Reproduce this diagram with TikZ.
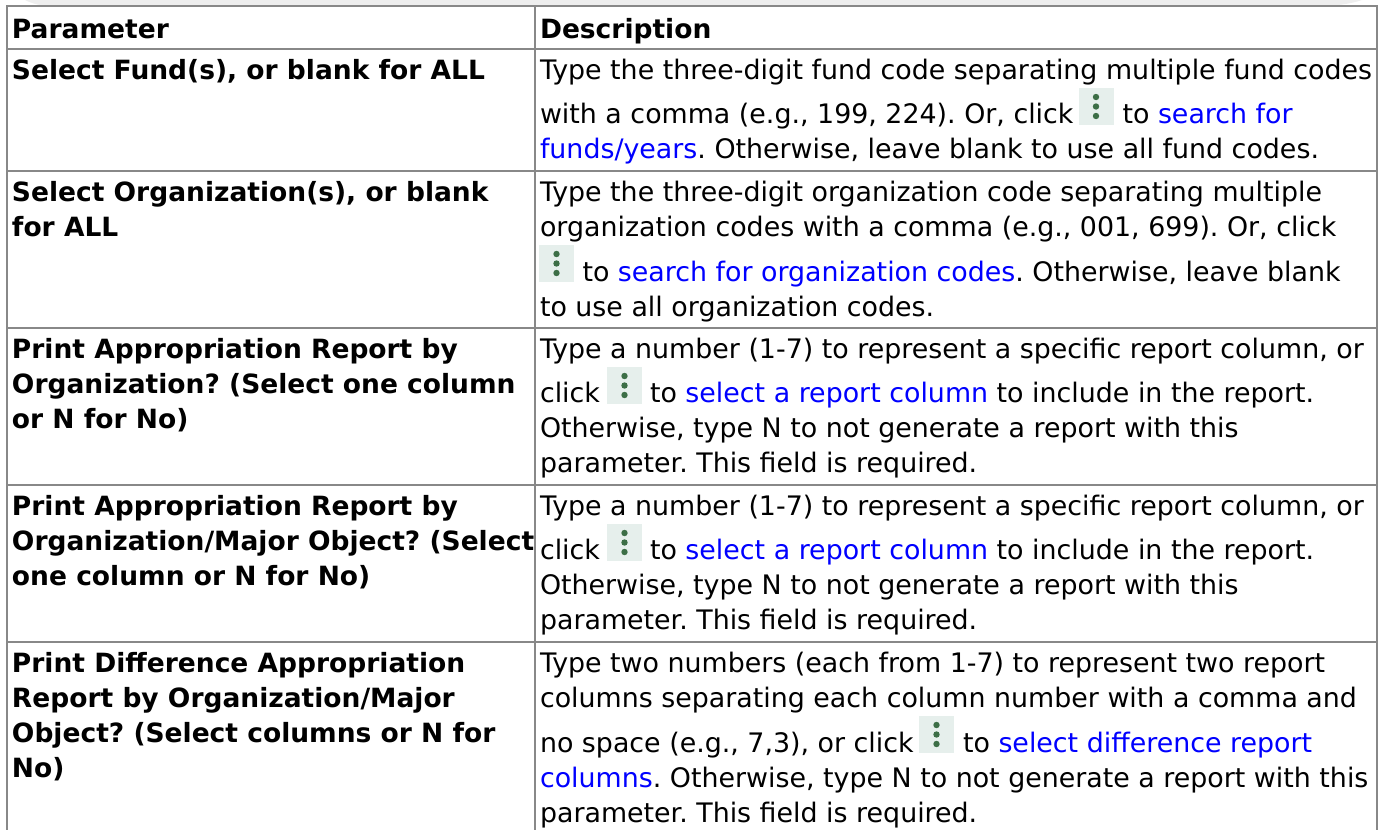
\documentclass[tikz,border=0pt]{standalone}
\usepackage{fontspec}
\setmainfont{DejaVu Sans}
\frenchspacing
\definecolor{rule}{HTML}{888888}
\definecolor{lnk}{HTML}{0000FF}
\definecolor{band}{HTML}{EEEEEE}
\definecolor{icbg}{HTML}{E6EFEC}
\definecolor{icdot}{HTML}{3C6E46}
\newcommand{\fsr}{\frenchspacing\fontsize{26.85}{26.85}\selectfont}
\newcommand{\fsb}{\frenchspacing\fontsize{26.5}{26.5}\selectfont\bfseries}
\newcommand{\lk}[1]{\textcolor{lnk}{#1}}
\tikzset{
 x=1pt,y=-1pt,
 cell/.style={anchor=base west,inner sep=0pt,outer sep=0pt,font=\fsr,text=black},
 bcell/.style={cell,font=\fsb},
 gridline/.style={draw=rule,line width=2.4pt},
 icon/.pic={
  \fill[icbg] (-17.5,-18.5) rectangle (17.5,18.5);
  \fill[icdot] (0,-9.5) circle (3.2) (0,0) circle (3.2) (0,9.5) circle (3.2);
 }
}
\begin{document}
\begin{tikzpicture}
\useasboundingbox (0,0) rectangle (1379,830);
\fill[white] (0,0) rectangle (1379,830);
\fill[band] (25,0) -- (1362,0) .. controls (1350,4) and (1335,6) .. (1320,6) -- (50,6) .. controls (42,6) and (33,4) .. (25,0) -- cycle;
\draw[gridline] (7,830) -- (7,6) -- (1377,6) -- (1377,830);
\draw[gridline] (535,6) -- (535,830);
\foreach \yy in {49,171,328,485,642} \draw[gridline] (7,\yy) -- (1377,\yy);
\node[bcell] (h1) at (12,38) {Parameter};
\node[bcell] (h2) at (540,38) {Description};
% row 1
\node[bcell] (p1) at (12,79) {Select Fund(s), or blank for ALL};
\node[cell] (d1a) at (540,79) {Type the three-digit fund code separating multiple fund codes};
\node[cell] (d1b) at (540,123) {with a comma (e.g., 199, 224). Or, click};
\pic at (1096,106.5) {icon};
\node[cell] (d1c) at (1122.5,123) {to \lk{search for}};
\node[cell] (d1d) at (540,158) {\lk{funds/years}. Otherwise, leave blank to use all fund codes.};
% row 2
\node[bcell] (p2a) at (12,201) {Select Organization(s), or blank};
\node[bcell] (p2b) at (12,236) {for ALL};
\node[cell] (d2a) at (540,201) {Type the three-digit organization code separating multiple};
\node[cell] (d2b) at (540,236) {organization codes with a comma (e.g., 001, 699). Or, click};
\pic at (556.5,263.5) {icon};
\node[cell] (d2c) at (582.5,281) {to \lk{search for organization codes}. Otherwise, leave blank};
\node[cell] (d2d) at (540,316) {to use all organization codes.};
% row 3
\node[bcell] (p3a) at (12,358) {Print Appropriation Report by};
\node[bcell] (p3b) at (12,393) {Organization? (Select one column};
\node[bcell] (p3c) at (12,428) {or N for No)};
\node[cell] (d3a) at (540,358) {Type a number (1-7) to represent a specific report column, or};
\node[cell] (d3b) at (540,402) {click};
\pic at (624.5,385.5) {icon};
\node[cell] (d3c) at (650,402) {to \lk{select a report column} to include in the report.};
\node[cell] (d3d) at (540,437) {Otherwise, type N to not generate a report with this};
\node[cell] (d3e) at (540,472) {parameter. This field is required.};
% row 4
\node[bcell] (p4a) at (12,515) {Print Appropriation Report by};
\node[bcell] (p4b) at (12,550) {Organization/Major Object? (Select};
\node[bcell] (p4c) at (12,585) {one column or N for No)};
\node[cell] (d4a) at (540,515) {Type a number (1-7) to represent a specific report column, or};
\node[cell] (d4b) at (540,559) {click};
\pic at (624.5,542.5) {icon};
\node[cell] (d4c) at (650,559) {to \lk{select a report column} to include in the report.};
\node[cell] (d4d) at (540,594) {Otherwise, type N to not generate a report with this};
\node[cell] (d4e) at (540,629) {parameter. This field is required.};
% row 5
\node[bcell] (p5a) at (12,672) {Print Difference Appropriation};
\node[bcell] (p5b) at (12,707) {Report by Organization/Major};
\node[bcell] (p5c) at (12,742) {Object? (Select columns or N for};
\node[bcell] (p5d) at (12,777) {No)};
\node[cell] (d5a) at (540,672) {Type two numbers (each from 1-7) to represent two report};
\node[cell] (d5b) at (540,707) {columns separating each column number with a comma and};
\node[cell] (d5c) at (540,752) {no space (e.g., 7,3), or click};
\pic at (936.5,734.5) {icon};
\node[cell] (d5d) at (963,752) {to \lk{select difference report}};
\node[cell] (d5e) at (540,787) {\lk{columns}. Otherwise, type N to not generate a report with this};
\node[cell] (d5f) at (540,822) {parameter. This field is required.};
\end{tikzpicture}
\end{document}
